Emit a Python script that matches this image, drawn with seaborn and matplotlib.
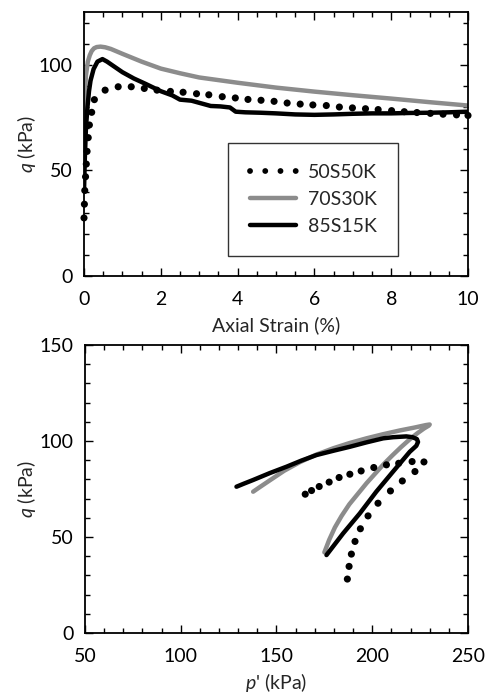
import numpy as np
import pandas as pd
import matplotlib
matplotlib.use("Agg")
import matplotlib.pyplot as plt
import seaborn as sns
from matplotlib.lines import Line2D
from matplotlib.ticker import MultipleLocator

# ---------------- data: top panel (axial strain vs q) ----------------
strain_50 = [0.00, 0.01, 0.02, 0.04, 0.06, 0.08, 0.11, 0.14, 0.20, 0.27, 0.55, 0.89,
             1.23, 1.57, 1.90, 2.25, 2.58, 2.93, 3.25, 3.60, 3.94, 4.27, 4.61, 4.95,
             5.29, 5.63, 5.96, 6.31, 6.65, 6.99, 7.33, 7.66, 8.01, 8.34, 8.67, 9.02,
             9.35, 9.70, 10.0]
q_50 = [27.5, 34, 40.5, 47, 53, 59, 65.5, 71.5, 77.5, 83.5, 88, 89.6,
        89.6, 88.8, 88, 87.4, 87, 86.3, 85.8, 84.9, 84.3, 83.6, 83.2, 82.7,
        81.9, 81.4, 81, 80.7, 80, 79.6, 79.2, 78.8, 78.3, 77.8, 77.4, 77,
        76.6, 76.3, 76]

strain_70 = [0.0, 0.02, 0.05, 0.10, 0.15, 0.20, 0.26, 0.33, 0.43, 0.55, 0.70, 1.0,
             1.5, 2.0, 2.5, 3.0, 4.0, 5.0, 6.0, 7.0, 8.0, 9.0, 10.0]
q_70 = [60, 84, 95, 101.5, 104.5, 106.5, 107.8, 108.4, 108.6, 108.3, 107.5, 105.2,
        101.5, 98.2, 96, 94, 91.5, 89.2, 87.3, 85.6, 84, 82.3, 80.7]

strain_85 = [0.00, 0.02, 0.05, 0.09, 0.13, 0.17, 0.25, 0.35, 0.48, 0.60, 0.80, 1.00,
             1.30, 1.60, 2.00, 2.30, 2.50, 2.80, 3.10, 3.30, 3.55, 3.80, 3.95, 4.20,
             4.60, 5.00, 5.50, 6.00, 6.50, 7.00, 7.50, 8.00, 8.50, 9.00, 9.50, 10.0]
q_85 = [40, 55, 70, 80, 87.5, 92.5, 98, 101.5, 102.7, 101.5, 99, 96.5,
        93.5, 91, 87.5, 85.5, 83.5, 83, 81.5, 80.5, 80.3, 79.8, 77.8, 77.5,
        77.3, 77, 76.5, 76.3, 76.5, 76.8, 77, 77, 77.2, 77.3, 77.5, 77.8]

# ---------------- data: bottom panel (p' vs q) ----------------
p_50b = [187.0, 187.9, 189.1, 191.0, 193.8, 197.8, 203.0, 209.5, 215.7, 222.3, 227.0,
         220.8, 213.8, 207.4, 200.8, 194.2, 188.3, 182.7, 177.5, 172.3, 168.3, 165.0]
q_50b = [28.1, 34.7, 41.1, 47.7, 54.3, 61.0, 67.6, 74.0, 79.2, 84.1, 89.1,
         89.3, 88.4, 87.6, 86.2, 84.4, 82.7, 81.0, 78.6, 76.3, 74.2, 72.3]

p_70b = [175.0, 177.5, 180.5, 184.0, 188.0, 192.5, 197.0, 201.5, 206.0, 210.5, 215.0,
         219.5, 223.5, 227.0, 229.5, 230.0, 228.0, 222.0, 214.4, 205.5, 197.0, 188.0,
         179.6, 170.5, 162.2, 154.0, 146.5, 141.0, 137.8]
q_70b = [42.0, 48.5, 55.0, 61.0, 67.0, 72.5, 78.0, 83.0, 88.0, 92.5, 96.8,
         100.8, 104.0, 106.5, 108.0, 108.6, 108.3, 107.0, 105.5, 103.5, 101.4, 98.9,
         96.2, 92.8, 89.0, 84.5, 79.5, 75.8, 73.6]

p_85b = [176.1, 184.8, 193.5, 202.1, 210.8, 219.6, 223.0, 223.9, 223.3, 221.0, 217.8,
         211.0, 205.7, 197.0, 188.3, 180.0, 170.9, 163.0, 155.2, 146.5, 137.8, 133.0,
         129.1]
q_85b = [40.6, 51.9, 62.3, 73.6, 84.0, 94.4, 97.5, 99.5, 101.0, 102.0, 102.4,
         102.0, 101.4, 99.3, 97.0, 95.0, 92.7, 89.8, 86.6, 83.3, 79.7, 77.8,
         76.2]

labels = ["50S50K", "70S30K", "85S15K"]
gray = "#8c8c8c"
FS = 14

sns.set_style("white")
plt.rcParams["font.family"] = ["Lato", "DejaVu Sans"]
plt.rcParams["mathtext.fontset"] = "custom"
plt.rcParams["mathtext.rm"] = "Lato"
plt.rcParams["mathtext.it"] = "Lato:italic"
plt.rcParams["font.size"] = FS

fig = plt.figure(figsize=(4.87, 6.97), dpi=100)
ax1 = fig.add_axes([0.1725, 0.604, 0.961 - 0.1725, 0.9828 - 0.604])
ax2 = fig.add_axes([0.1745, 0.0918, 0.961 - 0.1745, 0.505 - 0.0918])

df50 = pd.DataFrame({"x": strain_50, "q": q_50})
df70 = pd.DataFrame({"x": strain_70, "q": q_70})
df85 = pd.DataFrame({"x": strain_85, "q": q_85})

sns.lineplot(data=df70, x="x", y="q", ax=ax1, color=gray, lw=3.2, sort=False,
             estimator=None, zorder=2)
sns.lineplot(data=df85, x="x", y="q", ax=ax1, color="black", lw=3.2, sort=False,
             estimator=None, zorder=3)
sns.scatterplot(data=df50, x="x", y="q", ax=ax1, color="black", s=26,
                edgecolor="none", zorder=4, clip_on=False)

db50 = pd.DataFrame({"p": p_50b, "q": q_50b})
db70 = pd.DataFrame({"p": p_70b, "q": q_70b})
db85 = pd.DataFrame({"p": p_85b, "q": q_85b})
sns.lineplot(data=db70, x="p", y="q", ax=ax2, color=gray, lw=3.2, sort=False,
             estimator=None, zorder=2)
sns.lineplot(data=db85, x="p", y="q", ax=ax2, color="black", lw=3.2, sort=False,
             estimator=None, zorder=3)
sns.scatterplot(data=db50, x="p", y="q", ax=ax2, color="black", s=26,
                edgecolor="none", zorder=4)

ax1.set_xlim(0, 10)
ax1.set_ylim(0, 125)
ax1.xaxis.set_major_locator(MultipleLocator(2))
ax1.xaxis.set_minor_locator(MultipleLocator(0.5))
ax1.yaxis.set_major_locator(MultipleLocator(50))
ax1.yaxis.set_minor_locator(MultipleLocator(10))
ax1.set_xlabel("Axial Strain (%)", fontsize=FS, labelpad=6)
ax1.set_ylabel(r"$q$ (kPa)", fontsize=FS, labelpad=1)

ax2.set_xlim(50, 250)
ax2.set_ylim(0, 150)
ax2.xaxis.set_major_locator(MultipleLocator(50))
ax2.xaxis.set_minor_locator(MultipleLocator(10))
ax2.yaxis.set_major_locator(MultipleLocator(50))
ax2.yaxis.set_minor_locator(MultipleLocator(10))
ax2.set_xlabel(r"$p$' (kPa)", fontsize=FS, labelpad=4)
ax2.set_ylabel(r"$q$ (kPa)", fontsize=FS, labelpad=1)

for ax in (ax1, ax2):
    for s in ax.spines.values():
        s.set_linewidth(1.3)
        s.set_color("black")
    ax.tick_params(which="both", direction="in", top=True, right=True,
                   bottom=True, left=True, color="black", width=1.0,
                   labelsize=FS, labelcolor="black")
    ax.tick_params(which="major", length=5.5, pad=8)
    ax.tick_params(axis="x", which="major", pad=11)
    ax.tick_params(which="minor", length=3.5)

handles = [
    Line2D([], [], color="black", lw=4.2, linestyle=(0, (0.01, 2.6)),
           dash_capstyle="round"),
    Line2D([], [], color=gray, lw=3.2),
    Line2D([], [], color="black", lw=3.2),
]
leg = ax1.legend(handles, labels, loc="center", bbox_to_anchor=(0.597, 0.29),
                 frameon=True, fancybox=False, fontsize=FS, handlelength=2.4,
                 handletextpad=0.6, labelspacing=0.5, borderpad=1.1,
                 borderaxespad=0)
leg.get_frame().set_edgecolor("black")
leg.get_frame().set_linewidth(1.0)

fig.savefig("out.png", dpi=100)
